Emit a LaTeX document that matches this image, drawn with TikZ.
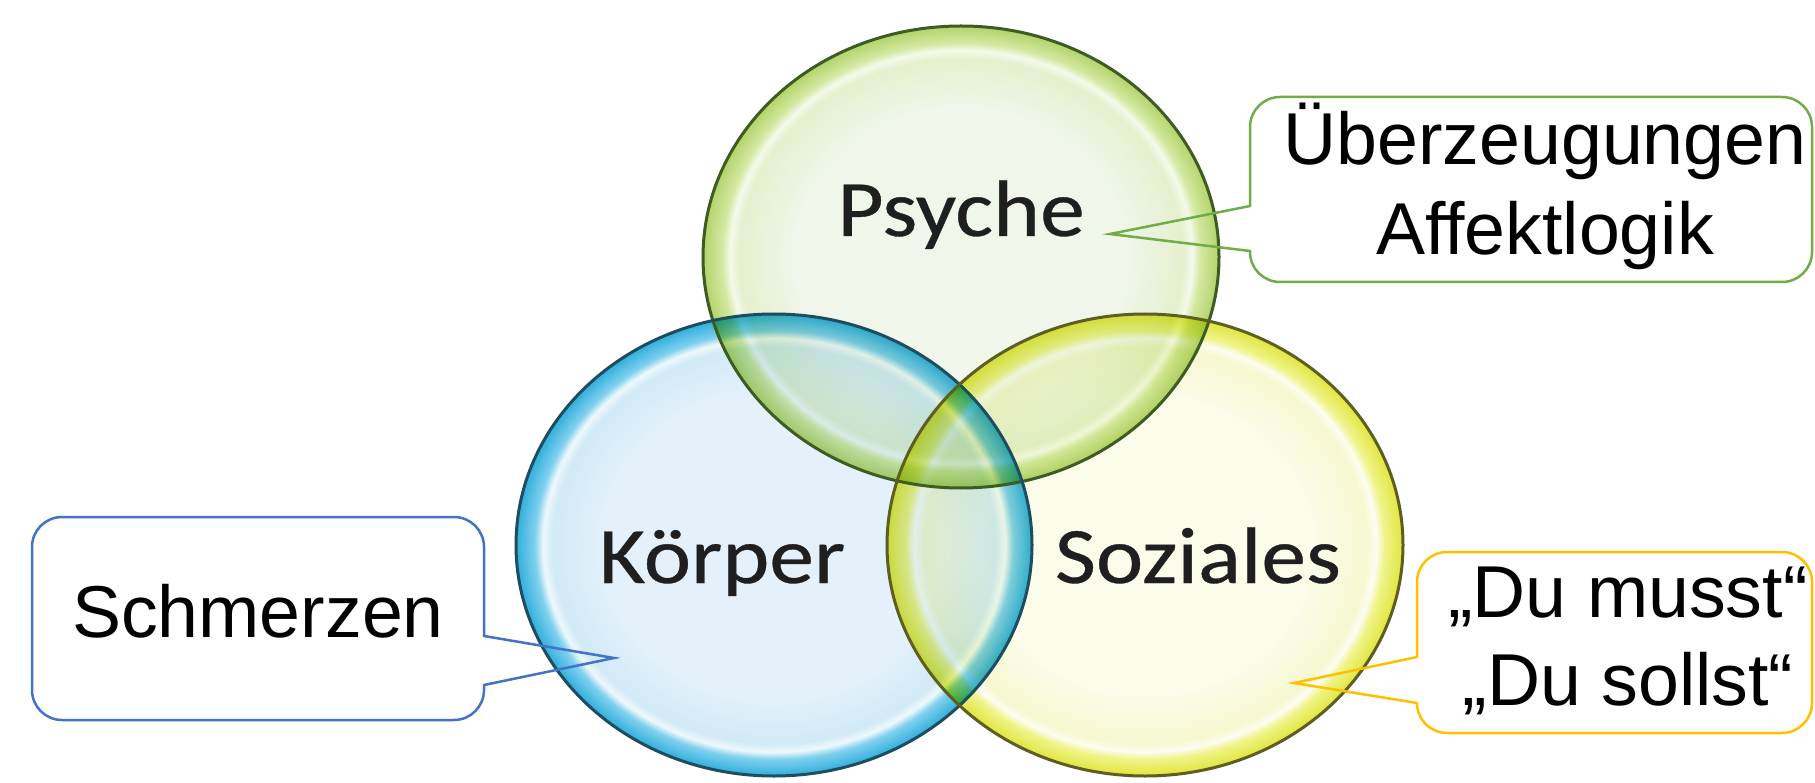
\documentclass[tikz,border=0pt]{standalone}
\usepackage{fontspec}
\setmainfont{Liberation Sans}
\newfontfamily\calib[FakeBold=0.4]{Carlito}
\usepackage{graphicx}
\usetikzlibrary{shapes.geometric}
\definecolor{pIn}{HTML}{F0F6EA}
\definecolor{pMid}{HTML}{E4F0CF}
\definecolor{pHi}{HTML}{F4F9EA}
\definecolor{pRim}{HTML}{D3E8A0}
\definecolor{pRimB}{HTML}{B2D36A}
\definecolor{pLine}{HTML}{3E5B22}
\definecolor{kIn}{HTML}{E4F1FA}
\definecolor{kMid}{HTML}{D2EAF7}
\definecolor{kHi}{HTML}{EEF8FC}
\definecolor{kRim}{HTML}{7FD0EE}
\definecolor{kRimB}{HTML}{30AEDC}
\definecolor{kLine}{HTML}{1F4D60}
\definecolor{sIn}{HTML}{FBFCEA}
\definecolor{sMid}{HTML}{F6F8D0}
\definecolor{sHi}{HTML}{FCFDF0}
\definecolor{sRim}{HTML}{F0F38A}
\definecolor{sRimB}{HTML}{E0E63C}
\definecolor{sLine}{HTML}{5E5E22}
\definecolor{cGreen}{HTML}{70AD47}
\definecolor{cBlue}{HTML}{4472C4}
\definecolor{cYellow}{HTML}{FFC000}
\pgfdeclareradialshading{pshade}{\pgfpoint{0bp}{0bp}}{color(0bp)=(pIn); color(16bp)=(pIn); color(21.5bp)=(pMid); color(22.4bp)=(pHi); color(23.2bp)=(pRim); color(25bp)=(pRimB); color(50bp)=(pRimB)}
\pgfdeclareradialshading{kshade}{\pgfpoint{0bp}{0bp}}{color(0bp)=(kIn); color(16bp)=(kIn); color(21.5bp)=(kMid); color(22.4bp)=(kHi); color(23.2bp)=(kRim); color(25bp)=(kRimB); color(50bp)=(kRimB)}
\pgfdeclareradialshading{sshade}{\pgfpoint{0bp}{0bp}}{color(0bp)=(sIn); color(16bp)=(sIn); color(21.5bp)=(sMid); color(22.4bp)=(sHi); color(23.2bp)=(sRim); color(25bp)=(sRimB); color(50bp)=(sRimB)}
\begin{document}
\begin{tikzpicture}[x=1pt,y=-1pt,
  bubble/.style={ellipse, inner sep=0pt, minimum width=516pt, minimum height=462pt},
  ring/.style={line width=3pt},
  lab/.style={font=\calib\fontsize{80}{92}\selectfont, text=black!88, inner sep=0pt, anchor=base},
  ctext/.style={font=\fontsize{73.5}{88}\selectfont, text=black, inner sep=0pt, anchor=base},
  cline/.style={line width=2.5pt, line cap=round, line join=miter}]
\useasboundingbox (0,0) rectangle (1815,783);
\fill[white] (0,0) rectangle (1815,783);
\begin{scope}[blend group=multiply]
\node[bubble, shade, shading=pshade] (psy) at (961,257) {};
\node[bubble, shade, shading=kshade] (kor) at (774,545) {};
\node[bubble, shade, shading=sshade] (soz) at (1145,545) {};
\end{scope}
\draw[ring, pLine] (psy.center) ellipse [x radius=258pt, y radius=231pt];
\draw[ring, kLine] (kor.center) ellipse [x radius=258pt, y radius=231pt];
\draw[ring, sLine] (soz.center) ellipse [x radius=258pt, y radius=231pt];
\node[lab] (psyL) at (961,236) {\scalebox{1.12}[1]{Psyche}};
\node[lab] (korL) at (722,583) {\scalebox{1.12}[1]{Körper}};
\node[lab] (sozL) at (1198,583) {\scalebox{1.12}[1]{Soziales}};
% green callout
\coordinate (gb1) at (1250,206);
\coordinate (gb2) at (1250,251);
\coordinate (gtip) at (1110,234);
\draw[cline, cGreen, rounded corners=30pt] (gb1) -- (1250,97) -- (1812,97) -- (1812,282) -- (1250,282) -- (gb2);
\draw[cline, cGreen] (gb1) -- (gtip) -- (gb2);
\node[ctext] (g1) at (1545,165) {Überzeugungen};
\node[ctext] (g2) at (1545,255) {Affektlogik};
% blue callout
\coordinate (bb1) at (484,636);
\coordinate (bb2) at (484,685);
\coordinate (btip) at (614,658);
\draw[cline, cBlue, rounded corners=30pt] (bb1) -- (484,517) -- (32,517) -- (32,720) -- (484,720) -- (bb2);
\draw[cline, cBlue] (bb1) -- (btip) -- (bb2);
\node[ctext] (b1) at (258,637) {Schmerzen};
% yellow callout
\coordinate (yb1) at (1417,657);
\coordinate (yb2) at (1417,703);
\coordinate (ytip) at (1294,683);
\draw[cline, cYellow, rounded corners=30pt] (yb1) -- (1417,552) -- (1812,552) -- (1812,733) -- (1417,733) -- (yb2);
\draw[cline, cYellow] (yb1) -- (ytip) -- (yb2);
\node[ctext] (y1) at (1628,617) {„Du musst“};
\node[ctext] (y2) at (1628,705) {„Du sollst“};
\end{tikzpicture}
\end{document}
